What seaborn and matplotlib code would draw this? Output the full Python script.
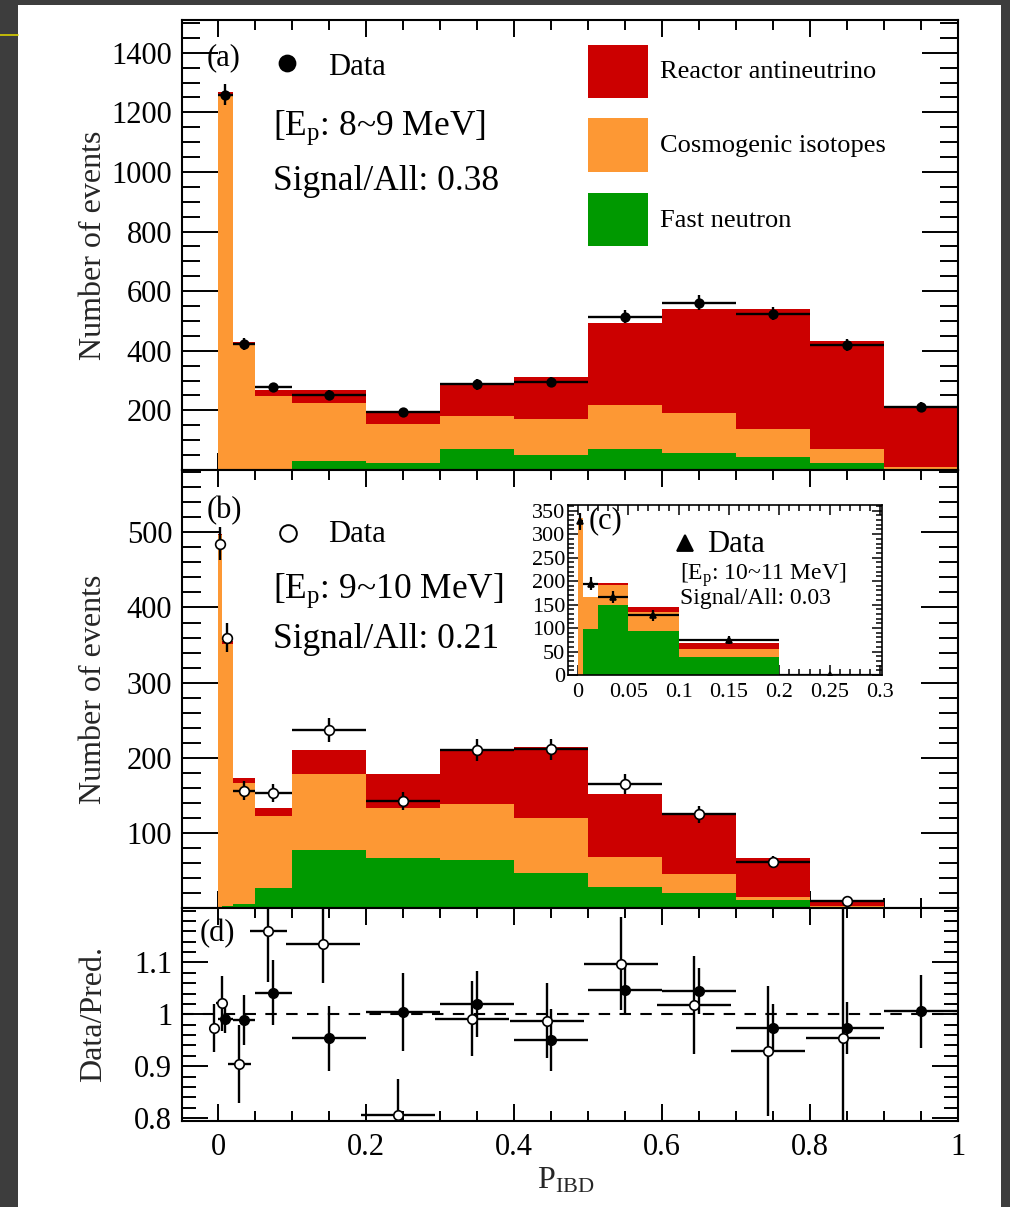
import numpy as np
import pandas as pd
import matplotlib
matplotlib.use("Agg")
import matplotlib.pyplot as plt
import seaborn as sns
from matplotlib.patches import Rectangle
from matplotlib.lines import Line2D
from matplotlib.ticker import MultipleLocator, FixedLocator, FormatStrFormatter

# ---------------- data ----------------
SOURCES = ["Reactor antineutrino", "Cosmogenic isotopes", "Fast neutron"]
PALETTE = {"Reactor antineutrino": "#cc0000",
           "Cosmogenic isotopes": "#fd9834",
           "Fast neutron": "#009900"}

# (a) E_p 8-9 MeV
edges_a = [0, 0.02, 0.05, 0.1, 0.2, 0.3, 0.4, 0.5, 0.6, 0.7, 0.8, 0.9, 1.0]
reactor_a = [6, 8, 22, 41, 45, 103, 141, 275, 349, 402, 360, 200]
cosmo_a = [1262, 422, 248, 196, 128, 109, 120, 147, 134, 94, 47, 6]
fast_a = [0, 0, 0, 30, 25, 72, 52, 72, 58, 45, 25, 5]
data_a = [1260, 422, 277, 253, 195, 287, 295, 515, 562, 525, 420, 212]
err_a = [35.5, 20.5, 16.6, 15.9, 14.0, 16.9, 17.2, 22.7, 23.7, 22.9, 20.5, 14.6]

# (b) E_p 9-10 MeV
edges_b = [0, 0.005, 0.02, 0.05, 0.1, 0.2, 0.3, 0.4, 0.5, 0.6, 0.7, 0.8, 0.9]
reactor_b = [2, 4, 6, 10, 32, 45, 74, 94, 84, 79, 51, 6]
cosmo_b = [495, 349, 162, 96, 101, 67, 74, 73, 40, 25, 4, 2]
fast_b = [1, 2, 5, 27, 77, 66, 64, 47, 28, 20, 11, 1]
data_b = [485, 360, 156, 153, 237, 143, 210, 211, 165, 125, 61, 9]
err_b = [22.0, 19.0, 12.5, 12.4, 15.4, 12.0, 14.5, 14.5, 12.8, 11.2, 7.8, 3.0]

# (c) E_p 10-11 MeV
edges_c = [0, 0.005, 0.02, 0.05, 0.1, 0.2, 0.3]
reactor_c = [0, 0, 5, 11, 13, 0]
cosmo_c = [334, 68, 43, 40, 17, 0]
fast_c = [0, 99, 148, 94, 39, 0]
data_c = [327, 194, 167, 127, 74, 0]
err_c = [18.1, 13.9, 12.9, 11.3, 8.6, 1.0]

# (d) data / prediction
ratio_a = [0.992, 0.989, 1.042, 0.954, 1.005, 1.020, 0.951, 1.047, 1.045, 0.974, 0.974, 1.006]
ratio_err_a = [0.028, 0.049, 0.062, 0.063, 0.075, 0.064, 0.060, 0.047, 0.045, 0.045, 0.050, 0.070]
ratio_x_b = [-0.005, 0.005, 0.029, 0.068, 0.142, 0.243, 0.343, 0.444, 0.544, 0.643, 0.743, 0.844]
ratio_b = [0.973, 1.021, 0.904, 1.160, 1.135, 0.806, 0.992, 0.988, 1.098, 1.018, 0.930, 0.954]
ratio_err_b = [0.046, 0.053, 0.075, 0.097, 0.075, 0.070, 0.073, 0.073, 0.090, 0.094, 0.125, 0.330]

# ---------------- style ----------------
sns.set_style("white")
plt.rcParams["font.family"] = ["Liberation Serif", "DejaVu Serif"]
plt.rcParams["mathtext.fontset"] = "custom"
plt.rcParams["mathtext.rm"] = "Liberation Serif"
plt.rcParams["mathtext.it"] = "Liberation Serif:italic"
plt.rcParams["axes.linewidth"] = 1.5
plt.rcParams["axes.edgecolor"] = "black"

W, H = 1010, 1207
fig = plt.figure(figsize=(W / 100, H / 100), dpi=100)
fig.patch.set_facecolor("white")


def fx(px):
    return px / W


def fy(py):
    return 1 - py / H


def add_axes(left, top, right, bottom):
    return fig.add_axes([fx(left), fy(bottom), fx(right) - fx(left), fy(top) - fy(bottom)])


def centers_widths(edges):
    e = np.asarray(edges, dtype=float)
    return (e[:-1] + e[1:]) / 2, (e[1:] - e[:-1]) / 2


def stacked(ax, edges, reactor, cosmo, fast):
    c, _ = centers_widths(edges)
    df = pd.DataFrame({
        "center": np.tile(c, 3),
        "count": np.concatenate([reactor, cosmo, fast]).astype(float),
        "source": np.repeat(SOURCES, len(c)),
    })
    sns.histplot(data=df, x="center", weights="count", hue="source",
                 hue_order=SOURCES, palette=PALETTE, bins=edges,
                 multiple="stack", element="step", fill=True,
                 linewidth=0, alpha=1, legend=False, ax=ax)
    ax.set_xlabel("")
    ax.set_ylabel("")


def points(ax, x, y, xerr, yerr, marker, ms, mfc, mew=1.2, lw=1.7):
    ax.errorbar(x, y, xerr=xerr, yerr=yerr, fmt=marker, ms=ms, mfc=mfc,
                mec="black", mew=mew, ecolor="black", elinewidth=lw,
                capsize=0, zorder=5)


def root_ticks(ax, xmaj, xmin_, ymaj, ymin_, width=1.4):
    ax.tick_params(which="both", direction="in", top=True, right=True,
                   bottom=True, left=True, width=width, colors="black")
    ax.tick_params(axis="x", which="major", length=xmaj)
    ax.tick_params(axis="x", which="minor", length=xmin_)
    ax.tick_params(axis="y", which="major", length=ymaj)
    ax.tick_params(axis="y", which="minor", length=ymin_)
    for s in ax.spines.values():
        s.set_visible(True)
        s.set_linewidth(1.5)
        s.set_color("black")


XLIM = (-0.0486, 1.0)

ax_a = add_axes(182, 20, 958, 470)
ax_b = add_axes(182, 470, 958, 908)
ax_d = add_axes(182, 908, 958, 1120.7)

# ---- (a) ----
stacked(ax_a, edges_a, reactor_a, cosmo_a, fast_a)
xc, xw = centers_widths(edges_a)
points(ax_a, xc, data_a, xw, err_a, "o", 6.2, "black")
ax_a.set_xlim(*XLIM)
ax_a.set_ylim(0, 1510)
ax_a.yaxis.set_major_locator(FixedLocator([200, 400, 600, 800, 1000, 1200, 1400]))
ax_a.yaxis.set_minor_locator(MultipleLocator(50))

# ---- (b) ----
stacked(ax_b, edges_b, reactor_b, cosmo_b, fast_b)
xcb, xwb = centers_widths(edges_b)
points(ax_b, xcb, data_b, xwb, err_b, "o", 7, "white")
ax_b.set_xlim(*XLIM)
ax_b.set_ylim(0, 583)
ax_b.yaxis.set_major_locator(FixedLocator([100, 200, 300, 400, 500]))
ax_b.yaxis.set_minor_locator(MultipleLocator(20))

# ---- (d) ratio ----
ax_d.axhline(1.0, color="black", lw=1.5, ls=(0, (5.5, 4.5)), zorder=1)
points(ax_d, xc, ratio_a, xw, ratio_err_a, "o", 6.8, "black")
points(ax_d, ratio_x_b, ratio_b, xwb, ratio_err_b, "o", 6.8, "white")
ax_d.set_xlim(*XLIM)
ax_d.set_ylim(0.795, 1.205)
ax_d.yaxis.set_major_locator(FixedLocator([0.8, 0.9, 1.0, 1.1]))
ax_d.yaxis.set_minor_locator(MultipleLocator(0.02))
ax_d.yaxis.set_major_formatter(FormatStrFormatter("%g"))

for ax in (ax_a, ax_b, ax_d):
    ax.xaxis.set_major_locator(FixedLocator([0, 0.2, 0.4, 0.6, 0.8, 1.0]))
    ax.xaxis.set_minor_locator(MultipleLocator(0.05))
    ax.xaxis.set_major_formatter(FormatStrFormatter("%g"))
    ax.tick_params(labelsize=22, pad=7)
    ax.set_facecolor("white")
root_ticks(ax_a, 12, 7, 26, 13)
root_ticks(ax_b, 12, 7, 27, 14)
root_ticks(ax_d, 12, 7, 19, 10)
ax_a.tick_params(axis="x", labelbottom=False)
ax_b.tick_params(axis="x", labelbottom=False)
ax_d.tick_params(axis="x", pad=9)

for ax, lab in ((ax_a, "Number of events"), (ax_b, "Number of events"),
                (ax_d, "Data/Pred.")):
    ax.set_ylabel(lab, fontsize=23)
    ax.yaxis.set_label_coords((108 - 182) / 776, 0.5)
ax_d.set_xlabel(r"P$_{\rm IBD}$", fontsize=23)
ax_d.xaxis.set_label_coords(0.495, -0.215)

# ---- (c) inset ----
ax_c = add_axes(568, 505, 882, 675)
stacked(ax_c, edges_c, reactor_c, cosmo_c, fast_c)
xcc, xwc = centers_widths(edges_c)
points(ax_c, xcc, data_c, xwc, err_c, "^", 4.5, "black", lw=1.6)
ax_c.set_xlim(-0.0099, 0.302)
ax_c.set_ylim(0, 362)
ax_c.xaxis.set_major_locator(MultipleLocator(0.05))
ax_c.xaxis.set_minor_locator(MultipleLocator(0.01))
ax_c.yaxis.set_major_locator(MultipleLocator(50))
ax_c.yaxis.set_minor_locator(MultipleLocator(10))
ax_c.xaxis.set_major_formatter(FormatStrFormatter("%g"))
root_ticks(ax_c, 7, 4, 7, 4, width=1.1)
ax_c.tick_params(labelsize=16, pad=2)
ax_c.tick_params(axis="x", pad=6)
for s in ax_c.spines.values():
    s.set_linewidth(1.2)

# ---- annotations ----
def ftext(px, py, s, size, **kw):
    kw.setdefault("ha", "left")
    kw.setdefault("va", "baseline")
    fig.text(fx(px), fy(py), s, fontsize=size, color="black", **kw)


def fmarker(px, py, marker, ms, mfc, mew=1.3):
    fig.add_artist(Line2D([fx(px)], [fy(py)], transform=fig.transFigure,
                          marker=marker, ms=ms, mfc=mfc, mec="black", mew=mew,
                          ls="none", zorder=10))


ftext(207, 65, "(a)", 22)
fmarker(287, 63, "o", 11.5, "black")
ftext(328, 75, "Data", 22)
ftext(273, 135, r"[E$_{\rm p}$: 8~9 MeV]", 25.5)
ftext(273, 190, "Signal/All: 0.38", 25.5)

legend_rows = [(45, 98, 78), (118, 172, 152), (193, 246, 227)]
for name, (top, bot, base) in zip(SOURCES, legend_rows):
    fig.add_artist(Rectangle((fx(588), fy(bot)), fx(648) - fx(588), fy(top) - fy(bot),
                             transform=fig.transFigure, facecolor=PALETTE[name],
                             edgecolor="none", zorder=10))
    ftext(660, base, name, 19)

ftext(207, 518, "(b)", 22)
fmarker(288, 533, "o", 12, "white", mew=1.4)
ftext(328, 542, "Data", 22)
ftext(273, 598, r"[E$_{\rm p}$: 9~10 MeV]", 25.5)
ftext(273, 648, "Signal/All: 0.21", 25.5)

ftext(589, 528, "(c)", 22, zorder=12)
fmarker(685, 543, "^", 11, "black")
ftext(707, 552, "Data", 22, zorder=12)
ftext(680, 580, r"[E$_{\rm p}$: 10~11 MeV]", 17, zorder=12)
ftext(680, 604, "Signal/All: 0.03", 17, zorder=12)

ftext(200, 941, "(d)", 22)

# dark page border around the figure
for (x0, y0, x1, y1) in [(0, 0, 18, H), (0, 0, W, 5), (1001, 0, W, H)]:
    fig.add_artist(Rectangle((fx(x0), fy(y1)), fx(x1) - fx(x0), fy(y0) - fy(y1),
                             transform=fig.transFigure, facecolor="#3d3d3d",
                             edgecolor="none", zorder=20))
fig.add_artist(Line2D([0, fx(18)], [fy(35), fy(35)], transform=fig.transFigure,
                      color="#d8cf00", lw=1.2, zorder=21))

fig.savefig("out.png", dpi=100)
